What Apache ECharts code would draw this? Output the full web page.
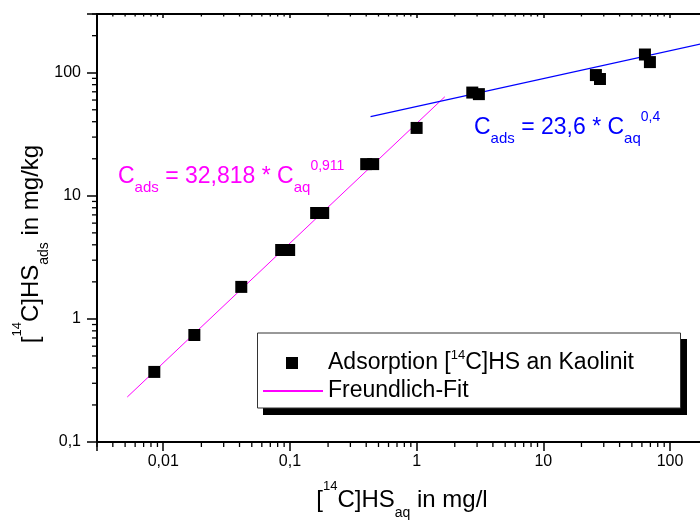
<!DOCTYPE html>
<html><head><meta charset="utf-8">
<script src="https://cdn.jsdelivr.net/npm/echarts@6/dist/echarts.min.js"></script>
<style>html,body{margin:0;padding:0;background:#fff}#c{width:700px;height:523px}</style>
</head><body><div id="c"></div>
<script>
// ---- data ----
const seriesNames = ['Adsorption [14C]HS an Kaolinit', 'Freundlich-Fit'];
const cAq  = [0.0085, 0.0176, 0.0413, 0.0853, 0.0986, 0.161, 0.183, 0.40, 0.454, 1.0, 2.75, 3.1, 26, 28, 63.4, 69.4];
const cAds = [0.371, 0.74, 1.82, 3.63, 3.63, 7.25, 7.25, 18.1, 18.1, 35.6, 69, 67, 95.7, 88.9, 140.6, 122];
const freundlichX = [0.0052, 1.67];
const freundlichY = [0.232, 63.8];
const upperFitX = [0.433, 300];
const upperFitY = [44, 194];
const xTickLabels = ['0,01', '0,1', '1', '10', '100'];   // 10^-2 .. 10^2
const yTickLabels = ['0,1', '1', '10', '100'];           // 10^-1 .. 10^2
const eqLow = 'C_ads = 32,818 * C_aq^0,911';
const eqHigh = 'C_ads = 23,6 * C_aq^0,4';
const xTitle = '[14C]HS_aq in mg/l';
const yTitle = '[14C]HS_ads in mg/kg';

// axis ranges
const xMin = 0.003, xMax = 1000, yMin = 0.1, yMax = 300;
const decades = [0.001, 0.01, 0.1, 1, 10, 100];
const minorMult = [2, 3, 4, 5, 6, 7, 8, 9];

const FONT = '"Liberation Sans", Arial, sans-serif';

function minorValues(lo, hi) {
  const out = [];
  decades.forEach(d => minorMult.forEach(m => {
    const v = Number((d * m).toPrecision(6));
    if (v >= lo && v <= hi) out.push(v);
  }));
  return out;
}
const xMinor = minorValues(xMin, xMax);
const yMinor = minorValues(yMin, yMax);

function decadeLabel(v, labels, firstExp) {
  const l = Math.log10(v), r = Math.round(l);
  if (Math.abs(l - r) > 1e-6) return '';
  return labels[r - firstExp] || '';
}

function tickSeries(data, dx, dy, xi) {
  return {
    type: 'custom', coordinateSystem: 'cartesian2d', xAxisIndex: xi || 0, yAxisIndex: 0,
    silent: true, clip: false, animation: false, z: 3,
    data: data, encode: {x: 0, y: 1},
    renderItem: function (params, api) {
      const p = api.coord([api.value(0), api.value(1)]);
      return {type: 'line', shape: {x1: p[0], y1: p[1], x2: p[0] + dx, y2: p[1] + dy},
              style: {stroke: '#000', lineWidth: 1.3}};
    }
  };
}

// convert "A_sub^sup" notation into rich text
function toRich(s) {
  let out = '';
  let i = 0, buf = '';
  const flush = () => { if (buf) { out += '{n|' + buf + '}'; buf = ''; } };
  while (i < s.length) {
    const c = s[i];
    if (c === '_' || c === '^') {
      flush();
      let j = i + 1, t = '';
      while (j < s.length && !/[\s^_]/.test(s[j])) { t += s[j]; j++; }
      out += '{' + (c === '_' ? 'sub' : 'sup') + '|' + t + '}';
      i = j;
    } else if (s.substr(i, 4) === '[14C') {
      buf += '['; flush(); out += '{sup|14}'; i += 3;
    } else { buf += c; i++; }
  }
  flush();
  return out;
}

function richStyles(main, small, L, hSub, hSup) {
  return {
    n: {fontSize: main, fontFamily: FONT, lineHeight: L, verticalAlign: 'middle'},
    sub: {fontSize: small, fontFamily: FONT, lineHeight: hSub, verticalAlign: 'bottom'},
    sup: {fontSize: small - 1, fontFamily: FONT, lineHeight: hSup, verticalAlign: 'top'}
  };
}

function legendText(padLeft) {
  return {color: '#000', fontSize: 23, fontFamily: FONT, lineHeight: 28, padding: [0, 0, 0, padLeft],
    rich: {
      n: {fontSize: 23, fontFamily: FONT, lineHeight: 28, color: '#000'},
      sup: {fontSize: 13, fontFamily: FONT, lineHeight: 16, verticalAlign: 'top', color: '#000'}
    }};
}
const legendName0 = seriesNames[0];
const legendFmt = name => name === legendName0 ? toRich(name) : '{n|' + name + '}';

const chart = echarts.init(document.getElementById('c'), null, {renderer: 'canvas'});

chart.setOption({
  animation: false,
  backgroundColor: '#fff',
  grid: {left: 97, top: 14, width: 699.7, height: 428, containLabel: false, outerBoundsMode: 'none'},
  xAxis: [{
    type: 'log', logBase: 10, min: xMin, max: xMax, position: 'bottom',
    axisLine: {show: true, lineStyle: {color: '#000', width: 2}},
    axisTick: {show: true, inside: false, length: 9, lineStyle: {color: '#000', width: 1.5}},
    axisLabel: {show: true, margin: 12, color: '#000', fontSize: 16, fontFamily: FONT,
      formatter: v => decadeLabel(v, xTickLabels, -2)},
    splitLine: {show: false}
  }, {
    type: 'log', logBase: 10, min: xMin, max: xMax, position: 'top',
    axisLine: {show: true, lineStyle: {color: '#000', width: 2}},
    axisTick: {show: true, inside: true, length: 4, lineStyle: {color: '#000', width: 1.5}},
    axisLabel: {show: false}, splitLine: {show: false}
  }],
  yAxis: [{
    type: 'log', logBase: 10, min: yMin, max: yMax,
    axisLine: {show: true, lineStyle: {color: '#000', width: 2}},
    axisTick: {show: true, inside: false, length: 10, lineStyle: {color: '#000', width: 1.5}},
    axisLabel: {show: true, margin: 16, color: '#000', fontSize: 16, fontFamily: FONT,
      formatter: v => decadeLabel(v, yTickLabels, -1)},
    splitLine: {show: false}
  }],
  legend: [{
    data: [{name: seriesNames[0], icon: 'rect'}],
    orient: 'vertical', left: 286, top: 349, padding: 0,
    itemGap: 0, itemWidth: 12, itemHeight: 12, itemTextGap: 5, z: 10,
    selectedMode: false, formatter: legendFmt, textStyle: legendText(25)
  }, {
    data: [{name: seriesNames[1], itemStyle: {opacity: 0, borderWidth: 0}}],
    orient: 'vertical', left: 262, top: 377, padding: 0,
    itemGap: 0, itemWidth: 60, itemHeight: 12, itemTextGap: 6, z: 10,
    selectedMode: false, formatter: legendFmt, textStyle: legendText(0)
  }],
  graphic: [
    {type: 'rect', z: 5, silent: true, shape: {x: 263, y: 339, width: 424, height: 76}, style: {fill: '#000'}},
    {type: 'rect', z: 6, silent: true, shape: {x: 257.5, y: 333, width: 423, height: 75},
      style: {fill: '#fff', stroke: '#333', lineWidth: 1}},
    {type: 'text', z: 10, x: 118, y: 177, silent: true,
      style: {text: toRich(eqLow), fill: '#FF00FF', align: 'left', verticalAlign: 'middle',
        fontSize: 23, fontFamily: FONT, rich: richStyles(23, 15, 36, 12, 18)}},
    {type: 'text', z: 10, x: 474, y: 128, silent: true,
      style: {text: toRich(eqHigh), fill: '#0000FF', align: 'left', verticalAlign: 'middle',
        fontSize: 23, fontFamily: FONT, rich: richStyles(23, 15, 36, 12, 18)}},
    {type: 'text', z: 10, x: 402, y: 500, silent: true,
      style: {text: toRich(xTitle), fill: '#000', align: 'center', verticalAlign: 'middle',
        fontSize: 24, fontFamily: FONT, rich: richStyles(24, 14, 40, 14, 22)}},
    {type: 'text', z: 10, x: 31, y: 244, rotation: Math.PI / 2, silent: true,
      style: {text: toRich(yTitle), fill: '#000', align: 'center', verticalAlign: 'middle',
        fontSize: 24, fontFamily: FONT, rich: richStyles(24, 14, 40, 14, 22)}}
  ],
  series: [
    {
      name: seriesNames[1], type: 'line', showSymbol: false, symbol: 'none', z: 2,
      data: freundlichX.map((x, i) => [x, freundlichY[i]]),
      lineStyle: {color: '#FF00FF', width: 1}, itemStyle: {color: '#FF00FF'}
    },
    {
      name: 'Fit oben', type: 'line', showSymbol: false, symbol: 'none', z: 2,
      data: upperFitX.map((x, i) => [x, upperFitY[i]]),
      lineStyle: {color: '#0000FF', width: 1.2}, itemStyle: {color: '#0000FF'}
    },
    {
      name: seriesNames[0], type: 'scatter', symbol: 'rect', symbolSize: 12, z: 4,
      data: cAq.map((x, i) => [x, cAds[i]]),
      itemStyle: {color: '#000', opacity: 1}
    },
    tickSeries(xMinor.map(v => [v, yMin]), 0, 5),
    tickSeries(yMinor.map(v => [xMin, v]), -5, 0),
    tickSeries(xMinor.map(v => [v, yMax]), 0, 2.5)
  ]
});
</script>
</body></html>
